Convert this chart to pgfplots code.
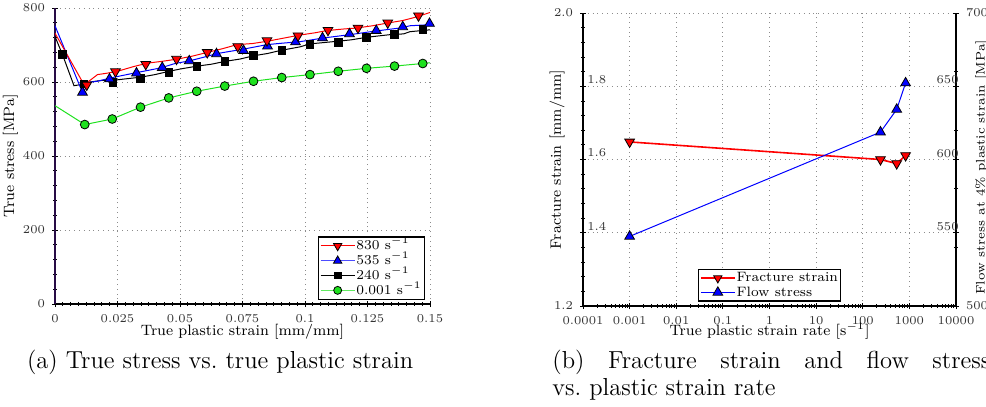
\documentclass[border=0pt]{standalone}
\usepackage{pgfplots}
\pgfplotsset{compat=1.18}
\definecolor{axisviolet}{RGB}{40,12,70}
\definecolor{mygreen}{RGB}{30,225,30}
\begin{document}
\begin{tikzpicture}
\pgfplotsset{
  every axis/.append style={
    scale only axis,
    tick align=outside, major tick length=3pt, minor tick length=1.6pt,
    tick style={black, line width=0.4pt},
    tick label style={font=\fontsize{6}{7}\selectfont, text=black!80},
    label style={font=\fontsize{7.5}{9}\selectfont},
    grid style={dotted, gray!90, line width=0.5pt},
  },
  lgd/.style={font=\fontsize{6.8}{7}\selectfont, draw=black, line width=0.8pt,
    inner sep=0.8pt, row sep=0pt, legend cell align=left,
    nodes={inner sep=0.5pt, text height=5.2pt, text depth=1.2pt}},
}
\tikzset{inlbl/.style={anchor=south west, inner sep=0pt, font=\fontsize{6}{7}\selectfont,
  text=black!80, xshift=2pt, yshift=1pt}}
% ---------- (a) ----------
\begin{axis}[
  at={(27.5pt,-152pt)}, anchor=south west,
  width=187.5pt, height=148pt,
  xmin=0, xmax=0.15, ymin=0, ymax=800,
  axis x line=bottom, axis y line=left,
  axis line style={-},
  x axis line style={-, line width=0.6pt},
  y axis line style={-, line width=1.1pt, draw=axisviolet},
  xtick={0,0.025,0.05,0.075,0.1,0.125,0.15},
  xticklabels={0,0.025,0.05,0.075,0.1,0.125,0.15},
  ytick={0,200,400,600,800},
  minor x tick num=7, minor y tick num=4,
  grid=major,
  xlabel={True plastic strain [mm/mm]}, ylabel={True stress [MPa]},
  xlabel style={at={(axis description cs:0.5,-0.105)}, anchor=base},
  ylabel style={at={(axis description cs:-0.08,0.5)}, anchor=south},
  legend style={lgd, at={(0.987,0.013)}, anchor=south east},
]
\addlegendimage{red, line width=0.5pt, mark=triangle*, mark size=2.4pt, mark options={rotate=180, fill=red, draw=black, line width=0.4pt}}
\addlegendentry{830 s$^{-1}$}
\addlegendimage{blue!70, line width=0.6pt, mark=triangle*, mark size=2.4pt, mark options={fill=blue, draw=black, line width=0.4pt}}
\addlegendentry{535 s$^{-1}$}
\addlegendimage{black, line width=0.5pt, mark=square*, mark size=1.7pt, mark options={fill=black, draw=black}}
\addlegendentry{240 s$^{-1}$}
\addlegendimage{mygreen!70, line width=0.6pt, mark=*, mark size=2pt, mark options={fill=mygreen, draw=black, line width=0.4pt}}
\addlegendentry{0.001 s$^{-1}$}
% 0.001 /s
\addplot[mygreen, line width=0.5pt, no marks, forget plot] coordinates {
(0,536) (0.0119,485) (0.0229,500) (0.0342,532) (0.0455,557) (0.0567,575) (0.0679,589)
(0.0794,602) (0.0907,612) (0.102,620) (0.1133,629) (0.1246,637) (0.1358,643) (0.1471,650) (0.15,652)};
\addplot[only marks, mark=*, mark size=2.2pt, mark options={fill=mygreen, draw=black, line width=0.4pt}, forget plot] coordinates {
(0.0119,485) (0.0229,500) (0.0342,532) (0.0455,557) (0.0567,575) (0.0679,589)
(0.0794,602) (0.0907,612) (0.102,620) (0.1133,629) (0.1246,637) (0.1358,643) (0.1471,650)};
% 240 /s
\addplot[black, line width=0.5pt, no marks, forget plot] coordinates {
(0,723) (0.003,674) (0.0076,590) (0.0103,593) (0.0129,599) (0.0183,604) (0.025,606)
(0.0342,613) (0.040,620) (0.045,628) (0.050,635) (0.0569,643) (0.0625,648) (0.0682,656)
(0.074,662) (0.0795,671) (0.085,677) (0.090,685) (0.098,695) (0.102,703) (0.1128,710)
(0.1185,714) (0.1248,721) (0.134,728) (0.1394,730) (0.142,736) (0.15,741)};
\addplot[only marks, mark=square*, mark size=1.9pt, mark options={fill=black, draw=black}, forget plot] coordinates {
(0.003,674) (0.0116,595) (0.0232,599) (0.0342,609) (0.0455,626) (0.0567,642) (0.068,655)
(0.0794,672) (0.0907,685) (0.102,702) (0.1133,707) (0.1246,721) (0.1358,729) (0.1471,742)};
% 535 /s
\addplot[blue, line width=0.5pt, no marks, forget plot] coordinates {
(0,752) (0.0111,570) (0.0136,599) (0.017,602) (0.0222,611) (0.0316,624) (0.0422,638)
(0.048,650) (0.0537,657) (0.0595,667) (0.0649,677) (0.0755,689) (0.0848,701) (0.091,705)
(0.098,709) (0.1074,719) (0.118,728) (0.1274,737) (0.138,746) (0.142,752) (0.15,755)};
\addplot[only marks, mark=triangle*, mark size=2.8pt, mark options={fill=blue, draw=black, line width=0.4pt}, forget plot] coordinates {
(0.011,572) (0.0218,608) (0.0326,624) (0.0429,639) (0.0537,657) (0.0646,676) (0.0754,685)
(0.085,697) (0.0962,708) (0.107,719) (0.1178,730) (0.1285,739) (0.1391,749) (0.1498,758)};
% 830 /s
\addplot[red, line width=0.5pt, no marks, forget plot] coordinates {
(0,732) (0.006,660) (0.0116,593) (0.0143,606) (0.017,620) (0.021,624) (0.025,629)
(0.0316,642) (0.037,651) (0.043,656) (0.049,662) (0.055,670) (0.0609,680) (0.067,690)
(0.0728,701) (0.079,704) (0.0848,710) (0.091,718) (0.098,727) (0.104,733) (0.1088,739)
(0.115,743) (0.1208,746) (0.127,752) (0.1327,759) (0.139,766) (0.1447,776) (0.15,788)};
\addplot[only marks, mark=triangle*, mark size=2.8pt, mark options={rotate=180, fill=red, draw=black, line width=0.4pt}, forget plot] coordinates {
(0.0127,592) (0.0242,628) (0.0363,648) (0.0486,662) (0.0609,680) (0.0731,696)
(0.0848,712) (0.0972,725) (0.1092,740) (0.1212,746) (0.1331,760) (0.1454,779)};
\end{axis}
% ---------- (b) left axis ----------
\begin{axis}[
  at={(291.5pt,-153pt)}, anchor=south west,
  width=186.5pt, height=146.5pt,
  xmode=log, xmin=1e-4, xmax=1e4, ymin=1.2, ymax=2.0,
  axis x line=bottom, axis y line=left,
  axis line style={-, line width=0.6pt},
  xtick={1e-4,1e-3,1e-2,1e-1,1,10,100,1000,10000},
  xticklabels={0.0001,0.001,0.01,0.1,1,10,100,1000,10000},
  minor xtick={2e-4,3e-4,4e-4,5e-4,6e-4,7e-4,8e-4,9e-4,
    2e-3,3e-3,4e-3,5e-3,6e-3,7e-3,8e-3,9e-3,
    2e-2,3e-2,4e-2,5e-2,6e-2,7e-2,8e-2,9e-2,
    0.2,0.3,0.4,0.5,0.6,0.7,0.8,0.9,
    2,3,4,5,6,7,8,9, 20,30,40,50,60,70,80,90,
    200,300,400,500,600,700,800,900, 2000,3000,4000,5000,6000,7000,8000,9000},
  ytick={1.2,1.4,1.6,1.8,2.0}, yticklabels={1.2,,,,2.0},
  minor y tick num=4,
  xmajorgrids, ymajorgrids,
  xlabel={True plastic strain rate [s$^{-1}$]}, ylabel={Fracture strain [mm/mm]},
  xlabel style={at={(axis description cs:0.5,-0.1)}, anchor=base},
  ylabel style={at={(axis description cs:-0.03,0.5)}, anchor=south},
]
\addplot[red, line width=0.8pt, mark=triangle*, mark size=2.8pt, mark options={rotate=180, fill=red, draw=black, line width=0.4pt}] coordinates {
(0.001,1.648) (240,1.600) (535,1.589) (830,1.611)};
% tick labels set inside the frame, as in the original
\node[inlbl] at (axis cs:1e-4,1.4) {1.4};
\node[inlbl] at (axis cs:1e-4,1.6) {1.6};
\node[inlbl] at (axis cs:1e-4,1.8) {1.8};
\end{axis}
% ---------- (b) right axis ----------
\begin{axis}[
  at={(291.5pt,-153pt)}, anchor=south west,
  width=186.5pt, height=146.5pt,
  xmode=log, xmin=1e-4, xmax=1e4, ymin=500, ymax=700,
  axis x line=none, axis y line=right,
  axis line style={-, line width=0.6pt},
  ytick={500,700}, minor y tick num=4,
  extra y ticks={550,600,650},
  extra y tick style={grid=none, yticklabel style={anchor=south east, inner sep=1pt, xshift=1pt}},
  ylabel={Flow stress at 4\% plastic strain [MPa]},
  ylabel style={at={(axis description cs:1.033,0.473)}, anchor=north, font=\fontsize{6.2}{7}\selectfont},
  legend style={lgd, at={(0.5,0.014)}, anchor=south, nodes={text height=4.9pt}},
]
\addlegendimage{red, line width=0.8pt, mark=triangle*, mark size=2.4pt, mark options={rotate=180, fill=red, draw=black, line width=0.4pt}}
\addlegendentry{Fracture strain}
\addplot[blue, line width=0.5pt, mark=triangle*, mark size=2.8pt, mark options={fill=blue, draw=black, line width=0.4pt}] coordinates {
(0.001,547.5) (240,618.7) (535,634.2) (830,652.2)};
\addlegendentry{Flow stress}
\end{axis}
% ---------- captions ----------
\node[anchor=base west, inner sep=0pt, font=\fontsize{12.3}{13.5}\selectfont] at (13.3pt,-184pt)
  {(a) True stress vs.\ true plastic strain};
\node[anchor=base west, inner sep=0pt, text width=219pt, align=justify, font=\fontsize{12.3}{13.5}\selectfont] at (276pt,-184pt)
  {(b) Fracture strain and flow stress\linebreak vs.\ plastic strain rate};
\pgfresetboundingbox
\useasboundingbox (0,0) rectangle (493pt,-203.5pt);
\end{tikzpicture}
\end{document}
